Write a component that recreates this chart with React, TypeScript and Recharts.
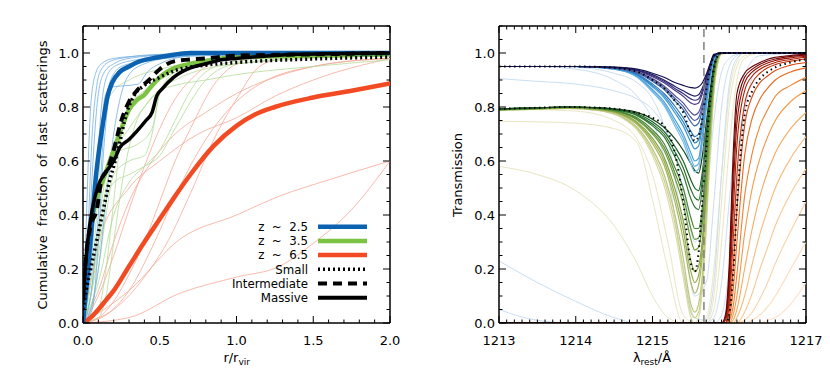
import React from 'react';
import { LineChart, Line, XAxis, YAxis, ReferenceLine } from 'recharts';

const FONT = '"DejaVu Sans", Verdana, sans-serif';

// ---------------- ticks ----------------
const leftXTicks = [0, 0.1, 0.2, 0.3, 0.4, 0.5, 0.6, 0.7, 0.8, 0.9, 1.0, 1.1, 1.2, 1.3, 1.4, 1.5, 1.6, 1.7, 1.8, 1.9, 2.0];
const leftXMajor = [0, 0.5, 1, 1.5, 2];
const leftXLabels = ['0.0', '0.5', '1.0', '1.5', '2.0'];
const yTicks = [0, 0.05, 0.1, 0.15, 0.2, 0.25, 0.3, 0.35, 0.4, 0.45, 0.5, 0.55, 0.6, 0.65, 0.7, 0.75, 0.8, 0.85, 0.9, 0.95, 1.0, 1.05, 1.1];
const yMajor = [0, 0.2, 0.4, 0.6, 0.8, 1.0];
const yLabels = ['0.0', '0.2', '0.4', '0.6', '0.8', '1.0'];
const rightXTicks = [1213, 1213.1, 1213.2, 1213.3, 1213.4, 1213.5, 1213.6, 1213.7, 1213.8, 1213.9, 1214, 1214.1, 1214.2, 1214.3, 1214.4, 1214.5, 1214.6, 1214.7, 1214.8, 1214.9, 1215, 1215.1, 1215.2, 1215.3, 1215.4, 1215.5, 1215.6, 1215.7, 1215.8, 1215.9, 1216, 1216.1, 1216.2, 1216.3, 1216.4, 1216.5, 1216.6, 1216.7, 1216.8, 1216.9, 1217];
const rightXMajor = [1213, 1214, 1215, 1216, 1217];
const rightXLabels = ['1213', '1214', '1215', '1216', '1217'];
const lyaLine = 1215.67;

// ---------------- left panel: thick curves ----------------
const blueThickX = [0, 0.02, 0.04, 0.06, 0.08, 0.1, 0.13, 0.16, 0.19, 0.24, 0.3, 0.35, 0.45, 0.55, 0.7, 1.0, 1.5, 2.0];
const blueThickY = [0, 0.12, 0.25, 0.38, 0.52, 0.62, 0.74, 0.84, 0.89, 0.93, 0.95, 0.965, 0.98, 0.99, 1.0, 1.0, 1.0, 1.0];
const greenThickX = [0, 0.02, 0.05, 0.1, 0.15, 0.2, 0.25, 0.3, 0.35, 0.4, 0.45, 0.5, 0.6, 0.7, 0.85, 1.0, 1.5, 2.0];
const greenThickY = [0.06, 0.22, 0.36, 0.48, 0.56, 0.64, 0.72, 0.79, 0.825, 0.845, 0.88, 0.91, 0.945, 0.96, 0.975, 0.985, 0.99, 0.995];
const redThickX = [0, 0.05, 0.1, 0.15, 0.2, 0.3, 0.4, 0.5, 0.6, 0.7, 0.85, 1.0, 1.12, 1.25, 1.5, 1.75, 2.0];
const redThickY = [0, 0.02, 0.05, 0.085, 0.12, 0.21, 0.3, 0.385, 0.47, 0.55, 0.655, 0.73, 0.772, 0.8, 0.835, 0.86, 0.887];
const massiveX = [0, 0.01, 0.03, 0.06, 0.1, 0.15, 0.2, 0.24, 0.3, 0.35, 0.41, 0.45, 0.48, 0.52, 0.59, 0.7, 0.8, 0.9, 1.0, 1.4, 2.0];
const massiveY = [0.08, 0.17, 0.3, 0.42, 0.51, 0.56, 0.6, 0.65, 0.68, 0.71, 0.75, 0.78, 0.84, 0.87, 0.91, 0.945, 0.96, 0.975, 0.98, 0.995, 1.0];
const intermX = [0, 0.02, 0.05, 0.09, 0.12, 0.16, 0.2, 0.25, 0.3, 0.35, 0.43, 0.5, 0.6, 0.8, 1.0, 1.5, 2.0];
const intermY = [0.1, 0.25, 0.36, 0.42, 0.53, 0.57, 0.64, 0.75, 0.82, 0.86, 0.9, 0.94, 0.97, 0.98, 0.99, 0.995, 1.0];
const smallX = [0, 0.02, 0.05, 0.08, 0.11, 0.14, 0.17, 0.2, 0.24, 0.28, 0.33, 0.4, 0.5, 0.6, 0.8, 1.0, 1.5, 2.0];
const smallY = [0.05, 0.12, 0.2, 0.28, 0.36, 0.44, 0.52, 0.58, 0.67, 0.77, 0.84, 0.88, 0.91, 0.935, 0.955, 0.965, 0.978, 0.985];

// ---------------- left panel: thin curves ----------------
const thinBlue = [
  { x: [0, 0.03, 0.06, 0.09, 0.12, 0.18, 0.3, 0.5, 1, 2], y: [0, 0.3, 0.7, 0.88, 0.94, 0.97, 0.985, 0.995, 1, 1] },
  { x: [0, 0.03, 0.06, 0.1, 0.14, 0.2, 0.3, 0.6, 1, 2], y: [0, 0.2, 0.55, 0.85, 0.93, 0.96, 0.98, 0.995, 1, 1] },
  { x: [0, 0.04, 0.08, 0.12, 0.16, 0.22, 0.35, 0.7, 2], y: [0, 0.15, 0.45, 0.8, 0.92, 0.955, 0.975, 0.995, 1] },
  { x: [0, 0.05, 0.1, 0.14, 0.18, 0.25, 0.4, 0.8, 2], y: [0, 0.1, 0.4, 0.75, 0.9, 0.95, 0.97, 0.99, 1] },
  { x: [0, 0.05, 0.1, 0.15, 0.2, 0.3, 0.36, 0.42, 0.5, 0.7, 1, 2], y: [0, 0.2, 0.6, 0.85, 0.875, 0.88, 0.885, 0.93, 0.96, 0.99, 1, 1] },
  { x: [0, 0.05, 0.1, 0.15, 0.2, 0.25, 0.3, 0.4, 0.6, 1, 2], y: [0, 0.05, 0.2, 0.45, 0.7, 0.85, 0.92, 0.96, 0.985, 1, 1] },
  { x: [0, 0.02, 0.05, 0.08, 0.12, 0.2, 0.4, 1, 2], y: [0, 0.35, 0.8, 0.92, 0.96, 0.98, 0.99, 1, 1] },
  { x: [0, 0.06, 0.1, 0.13, 0.16, 0.2, 0.3, 0.5, 1, 2], y: [0, 0.05, 0.3, 0.6, 0.8, 0.9, 0.95, 0.98, 1, 1] },
];
const thinGreen = [
  { x: [0, 0.05, 0.1, 0.15, 0.2, 0.3, 0.4, 0.5, 0.6, 0.8, 1, 1.5, 2], y: [0, 0.1, 0.3, 0.5, 0.62, 0.72, 0.8, 0.86, 0.88, 0.9, 0.92, 0.95, 0.975] },
  { x: [0, 0.05, 0.1, 0.15, 0.2, 0.3, 0.4, 0.45, 0.5, 0.6, 0.8, 1, 2], y: [0, 0.05, 0.2, 0.4, 0.55, 0.6, 0.62, 0.7, 0.85, 0.92, 0.96, 0.98, 1] },
  { x: [0, 0.05, 0.1, 0.15, 0.2, 0.25, 0.35, 0.45, 0.5, 0.6, 0.8, 1.2, 2], y: [0, 0.1, 0.35, 0.55, 0.62, 0.64, 0.66, 0.72, 0.85, 0.93, 0.97, 0.99, 1] },
  { x: [0, 0.1, 0.15, 0.2, 0.25, 0.3, 0.4, 0.5, 0.7, 1, 2], y: [0, 0.05, 0.2, 0.45, 0.7, 0.8, 0.86, 0.9, 0.95, 0.98, 1] },
  { x: [0, 0.05, 0.1, 0.12, 0.15, 0.2, 0.3, 0.5, 0.8, 1.2, 2], y: [0, 0.15, 0.5, 0.7, 0.8, 0.86, 0.9, 0.94, 0.97, 0.99, 1] },
  { x: [0, 0.1, 0.2, 0.3, 0.4, 0.5, 0.6, 0.7, 0.8, 1, 1.5, 2], y: [0, 0.15, 0.4, 0.52, 0.58, 0.64, 0.75, 0.86, 0.93, 0.97, 0.99, 1] },
  { x: [0, 0.05, 0.1, 0.15, 0.2, 0.3, 0.4, 0.5, 0.6, 0.8, 1, 2], y: [0, 0.1, 0.25, 0.45, 0.52, 0.55, 0.58, 0.62, 0.72, 0.9, 0.96, 1] },
  { x: [0, 0.1, 0.15, 0.2, 0.25, 0.3, 0.35, 0.4, 0.6, 1, 2], y: [0, 0.02, 0.1, 0.3, 0.5, 0.65, 0.75, 0.8, 0.9, 0.96, 0.99] },
];
const thinRed = [
  { x: [0, 0.1, 0.2, 0.3, 0.4, 0.5, 0.6, 0.7, 0.8, 0.9, 1, 2], y: [0, 0.1, 0.25, 0.42, 0.58, 0.72, 0.83, 0.9, 0.95, 0.98, 0.99, 1] },
  { x: [0, 0.1, 0.2, 0.3, 0.4, 0.5, 0.6, 0.7, 0.85, 1, 1.2, 2], y: [0, 0.02, 0.08, 0.18, 0.3, 0.45, 0.6, 0.72, 0.88, 0.96, 0.99, 1] },
  { x: [0, 0.1, 0.2, 0.3, 0.45, 0.6, 0.8, 1, 1.2, 1.5, 2], y: [0, 0.12, 0.3, 0.45, 0.6, 0.7, 0.78, 0.85, 0.9, 0.95, 0.98] },
  { x: [0, 0.2, 0.4, 0.55, 0.7, 0.87, 1, 1.15, 1.3, 1.5, 2], y: [0, 0.05, 0.17, 0.3, 0.48, 0.7, 0.83, 0.95, 0.98, 0.99, 1] },
  { x: [0, 0.05, 0.1, 0.3, 0.5, 0.75, 1, 1.25, 1.5, 2], y: [0, 0.15, 0.3, 0.5, 0.6, 0.7, 0.76, 0.84, 0.9, 0.98] },
  { x: [0, 0.3, 0.63, 1, 1.28, 1.6, 2], y: [0, 0.12, 0.31, 0.4, 0.47, 0.53, 0.6] },
  { x: [0, 0.3, 0.63, 1, 1.28, 1.5, 1.75, 2], y: [0, 0.02, 0.11, 0.17, 0.21, 0.295, 0.42, 0.6] },
  { x: [0, 0.15, 0.3, 0.45, 0.6, 0.8, 1, 1.2, 1.5, 2], y: [0, 0.03, 0.12, 0.28, 0.47, 0.68, 0.82, 0.9, 0.95, 0.98] },
];

// ---------------- right panel ----------------
const blueX = [1213, 1214, 1214.5, 1214.8, 1215.0, 1215.15, 1215.3, 1215.4, 1215.5, 1215.55, 1215.6, 1215.65, 1215.7, 1215.75, 1215.8, 1215.9, 1217];
const blueSeries = [
  [0.95, 0.95, 0.94, 0.91, 0.855, 0.805, 0.725, 0.67, 0.59, 0.56, 0.57, 0.67, 0.79, 0.9, 0.975, 1, 1],
  [0.95, 0.95, 0.9405, 0.912, 0.86, 0.812, 0.737, 0.685, 0.61, 0.58, 0.59, 0.685, 0.8, 0.905, 0.978, 1, 1],
  [0.95, 0.95, 0.941, 0.914, 0.865, 0.82, 0.75, 0.7, 0.63, 0.6, 0.61, 0.7, 0.81, 0.91, 0.98, 1, 1],
  [0.95, 0.95, 0.942, 0.918, 0.875, 0.835, 0.775, 0.73, 0.67, 0.645, 0.655, 0.73, 0.83, 0.92, 0.98, 1, 1],
  [0.95, 0.95, 0.9425, 0.92, 0.88, 0.842, 0.787, 0.745, 0.69, 0.667, 0.677, 0.745, 0.84, 0.925, 0.982, 1, 1],
  [0.95, 0.95, 0.943, 0.922, 0.885, 0.85, 0.8, 0.76, 0.71, 0.69, 0.7, 0.76, 0.85, 0.93, 0.985, 1, 1],
  [0.95, 0.95, 0.944, 0.926, 0.895, 0.865, 0.82, 0.79, 0.745, 0.73, 0.74, 0.79, 0.87, 0.94, 0.985, 1, 1],
  [0.95, 0.95, 0.9445, 0.928, 0.9, 0.871, 0.83, 0.802, 0.762, 0.75, 0.76, 0.805, 0.877, 0.942, 0.988, 1, 1],
  [0.95, 0.95, 0.945, 0.93, 0.905, 0.878, 0.84, 0.815, 0.78, 0.77, 0.78, 0.82, 0.885, 0.945, 0.99, 1, 1],
  [0.95, 0.95, 0.946, 0.934, 0.912, 0.89, 0.86, 0.84, 0.815, 0.81, 0.815, 0.85, 0.9, 0.95, 0.99, 1, 1],
  [0.95, 0.95, 0.9465, 0.9355, 0.916, 0.895, 0.867, 0.85, 0.83, 0.825, 0.83, 0.86, 0.905, 0.952, 0.99, 1, 1],
  [0.95, 0.95, 0.947, 0.937, 0.92, 0.9, 0.875, 0.86, 0.845, 0.84, 0.845, 0.87, 0.91, 0.955, 0.99, 1, 1],
  [0.95, 0.95, 0.948, 0.94, 0.925, 0.91, 0.89, 0.88, 0.872, 0.87, 0.875, 0.89, 0.92, 0.96, 0.995, 1, 1],
];
const blueColors = ['#7cc0e8', '#62b0e0', '#4ea2da', '#3c94d2', '#3286c8', '#2f78bc', '#3a68ac', '#4a5aa0', '#54509a', '#4a3a88', '#38307c', '#262268', '#101050'];
const blueDotted = [0.95, 0.95, 0.945, 0.93, 0.9, 0.87, 0.82, 0.78, 0.7, 0.675, 0.69, 0.76, 0.86, 0.94, 0.99, 1, 1];

const greenX = [1213, 1213.5, 1213.9, 1214.3, 1214.6, 1214.8, 1215.0, 1215.15, 1215.3, 1215.4, 1215.5, 1215.55, 1215.6, 1215.65, 1215.7, 1215.75, 1215.8, 1215.85, 1215.9, 1216.0, 1217];
const greenSeries = [
  [0.787, 0.792, 0.795, 0.786, 0.76, 0.715, 0.62, 0.51, 0.33, 0.17, 0.02, 0, 0.02, 0.12, 0.34, 0.62, 0.85, 0.96, 0.995, 1, 1],
  [0.787, 0.792, 0.795, 0.787, 0.762, 0.72, 0.632, 0.53, 0.36, 0.2, 0.04, 0.02, 0.04, 0.15, 0.37, 0.64, 0.86, 0.965, 0.998, 1, 1],
  [0.788, 0.793, 0.796, 0.788, 0.765, 0.725, 0.645, 0.55, 0.39, 0.24, 0.07, 0.04, 0.07, 0.18, 0.4, 0.66, 0.87, 0.97, 1, 1, 1],
  [0.79, 0.794, 0.797, 0.79, 0.77, 0.735, 0.665, 0.585, 0.44, 0.31, 0.15, 0.11, 0.14, 0.25, 0.46, 0.7, 0.89, 0.98, 1, 1, 1],
  [0.79, 0.794, 0.797, 0.791, 0.772, 0.74, 0.675, 0.6, 0.465, 0.345, 0.19, 0.15, 0.175, 0.28, 0.485, 0.715, 0.895, 0.98, 1, 1, 1],
  [0.79, 0.794, 0.798, 0.792, 0.774, 0.744, 0.685, 0.615, 0.49, 0.38, 0.23, 0.19, 0.21, 0.31, 0.51, 0.73, 0.9, 0.98, 1, 1, 1],
  [0.79, 0.795, 0.799, 0.794, 0.778, 0.752, 0.7, 0.64, 0.53, 0.44, 0.31, 0.27, 0.28, 0.37, 0.56, 0.76, 0.92, 0.985, 1, 1, 1],
  [0.79, 0.795, 0.8, 0.794, 0.78, 0.756, 0.707, 0.652, 0.55, 0.47, 0.35, 0.31, 0.315, 0.4, 0.585, 0.775, 0.925, 0.988, 1, 1, 1],
  [0.79, 0.795, 0.8, 0.795, 0.782, 0.76, 0.715, 0.665, 0.57, 0.5, 0.39, 0.35, 0.35, 0.43, 0.61, 0.79, 0.93, 0.99, 1, 1, 1],
  [0.793, 0.797, 0.8, 0.796, 0.785, 0.768, 0.73, 0.69, 0.61, 0.55, 0.46, 0.43, 0.42, 0.5, 0.66, 0.82, 0.94, 0.99, 1, 1, 1],
  [0.793, 0.797, 0.8, 0.796, 0.786, 0.771, 0.737, 0.7, 0.63, 0.575, 0.495, 0.465, 0.455, 0.53, 0.68, 0.83, 0.945, 0.992, 1, 1, 1],
  [0.793, 0.797, 0.8, 0.797, 0.788, 0.775, 0.745, 0.71, 0.65, 0.6, 0.53, 0.5, 0.49, 0.56, 0.7, 0.84, 0.95, 0.995, 1, 1, 1],
  [0.793, 0.797, 0.8, 0.798, 0.79, 0.78, 0.755, 0.725, 0.68, 0.64, 0.59, 0.565, 0.555, 0.62, 0.74, 0.86, 0.96, 1, 1, 1, 1],
];
const greenColors = ['#dcdcaa', '#ccd090', '#bcc67c', '#a8b860', '#98ae50', '#86a444', '#6f9a3a', '#5a903a', '#488638', '#347a32', '#26702c', '#1c6026', '#124418'];
const greenDotted = [0.793, 0.797, 0.8, 0.797, 0.79, 0.778, 0.76, 0.73, 0.62, 0.45, 0.22, 0.19, 0.26, 0.45, 0.64, 0.82, 0.94, 0.99, 1, 1, 1];

const paleX = [1213, 1213.5, 1214, 1214.5, 1214.8, 1215.0, 1215.2, 1215.4, 1215.55, 1215.7, 1215.8, 1215.9, 1216.0, 1216.1, 1216.2, 1216.4, 1217];
const paleBlueSeries = [
  [0.905, 0.895, 0.885, 0.86, 0.83, 0.79, 0.7, 0.5, 0.3, 0.45, 0.75, 0.93, 0.98, 0.995, 1, 1, 1],
  [0.95, 0.95, 0.947, 0.925, 0.89, 0.83, 0.68, 0.35, 0.1, 0.15, 0.45, 0.8, 0.95, 0.99, 1, 1, 1],
  [0.95, 0.95, 0.94, 0.9, 0.84, 0.75, 0.55, 0.2, 0.02, 0.01, 0.15, 0.55, 0.88, 0.98, 1, 1, 1],
  [0.23, 0.15, 0.08, 0.02, 0, 0, 0, 0, 0, 0, 0.02, 0.15, 0.45, 0.75, 0.92, 0.99, 1],
  [0.05, 0.01, 0, 0, 0, 0, 0, 0, 0, 0, 0, 0.03, 0.2, 0.5, 0.78, 0.96, 1],
];
const paleGreenSeries = [
  [0.79, 0.79, 0.785, 0.75, 0.68, 0.55, 0.3, 0.03, 0, 0, 0.1, 0.45, 0.8, 0.95, 0.99, 1, 1],
  [0.747, 0.745, 0.74, 0.72, 0.667, 0.456, 0.2, 0, 0, 0.02, 0.2, 0.55, 0.85, 0.97, 1, 1, 1],
  [0.58, 0.55, 0.49, 0.36, 0.22, 0.1, 0.02, 0, 0, 0, 0.05, 0.3, 0.65, 0.9, 0.98, 1, 1],
];

const redX = [1213, 1215.9, 1215.95, 1216.0, 1216.05, 1216.1, 1216.2, 1216.3, 1216.4, 1216.5, 1216.6, 1216.8, 1217.0];
const redSeries = [
  [0, 0, 0, 0, 0, 0, 0, 0, 0, 0.01, 0.02, 0.07, 0.15],
  [0, 0, 0, 0, 0, 0, 0, 0.01, 0.03, 0.06, 0.1, 0.2, 0.3],
  [0, 0, 0, 0, 0, 0, 0.01, 0.04, 0.09, 0.15, 0.22, 0.34, 0.45],
  [0, 0, 0, 0, 0, 0, 0.04, 0.11, 0.2, 0.28, 0.36, 0.48, 0.57],
  [0, 0, 0, 0, 0, 0.02, 0.1, 0.22, 0.33, 0.42, 0.5, 0.61, 0.69],
  [0, 0, 0, 0, 0.01, 0.05, 0.2, 0.35, 0.47, 0.56, 0.63, 0.72, 0.78],
  [0, 0, 0, 0, 0.03, 0.1, 0.33, 0.5, 0.61, 0.69, 0.75, 0.82, 0.86],
  [0, 0, 0, 0.01, 0.06, 0.18, 0.47, 0.63, 0.73, 0.79, 0.84, 0.88, 0.91],
  [0, 0, 0, 0.02, 0.12, 0.3, 0.62, 0.76, 0.83, 0.87, 0.9, 0.93, 0.945],
  [0, 0, 0, 0.04, 0.2, 0.42, 0.73, 0.84, 0.89, 0.915, 0.935, 0.955, 0.965],
  [0, 0, 0, 0.07, 0.3, 0.55, 0.81, 0.89, 0.925, 0.945, 0.957, 0.97, 0.978],
  [0, 0, 0, 0.1, 0.4, 0.66, 0.86, 0.915, 0.94, 0.955, 0.965, 0.976, 0.984],
  [0, 0, 0.01, 0.14, 0.48, 0.74, 0.89, 0.93, 0.95, 0.963, 0.972, 0.982, 0.988],
  [0, 0, 0.02, 0.18, 0.55, 0.8, 0.91, 0.94, 0.958, 0.97, 0.978, 0.987, 0.992],
  [0, 0, 0.03, 0.22, 0.62, 0.85, 0.925, 0.95, 0.965, 0.977, 0.984, 0.991, 0.995],
];
const redColors = ['#fce4ca', '#fbdcba', '#fad2a8', '#f9c794', '#f8ba7c', '#f6aa62', '#f49848', '#f08030', '#e8661e', '#d64a12', '#c0300a', '#aa1e04', '#941000', '#7e0400', '#6a0000'];
const redDotted = [0, 0, 0, 0.03, 0.18, 0.43, 0.77, 0.86, 0.905, 0.93, 0.947, 0.965, 0.977];

// ---------------- helpers ----------------
const pts = (xs: number[], ys: number[]) => xs.map((x, i) => ({ x, y: ys[i] }));

const PT = 26;
const PB = 323;
const isMajor = (arr: number[], v: number) => arr.findIndex((m) => Math.abs(m - v) < 1e-6);

const makeXTick = (majors: number[], labels: string[]) => (props: any) => {
  const { x, payload } = props;
  const mi = isMajor(majors, payload.value);
  const len = mi >= 0 ? 7 : 3.5;
  return (
    <g>
      <line x1={x} y1={PB} x2={x} y2={PB - len} stroke="#000" strokeWidth={1} />
      <line x1={x} y1={PT} x2={x} y2={PT + len} stroke="#000" strokeWidth={1} />
      {mi >= 0 && (
        <text x={x} y={PB + 22} textAnchor="middle" fontFamily={FONT} fontSize={13} fill="#000">
          {labels[mi]}
        </text>
      )}
    </g>
  );
};

const makeYTick = (pl: number, pr: number) => (props: any) => {
  const { y, payload } = props;
  const mi = isMajor(yMajor, payload.value);
  const len = mi >= 0 ? 7 : 3.5;
  return (
    <g>
      <line x1={pl} y1={y} x2={pl + len} y2={y} stroke="#000" strokeWidth={1} />
      <line x1={pr} y1={y} x2={pr - len} y2={y} stroke="#000" strokeWidth={1} />
      {mi >= 0 && (
        <text x={pl - 4} y={y + 4.7} textAnchor="end" fontFamily={FONT} fontSize={13} fill="#000">
          {yLabels[mi]}
        </text>
      )}
    </g>
  );
};

const line = (key: string, data: any[], color: string, width: number, dash?: string) => (
  <Line
    key={key}
    name={key}
    data={data}
    dataKey="y"
    type="monotone"
    stroke={color}
    strokeWidth={width}
    strokeDasharray={dash}
    dot={false}
    activeDot={false}
    isAnimationActive={false}
  />
);

const LeftPanel = () => (
  <LineChart width={415} height={377} margin={{ top: PT, right: 25, bottom: 24, left: 0 }}>
    <XAxis
      dataKey="x"
      type="number"
      domain={[0, 2]}
      ticks={leftXTicks}
      interval={0}
      tick={makeXTick(leftXMajor, leftXLabels)}
      tickLine={false}
      tickSize={0}
      tickMargin={0}
      axisLine={{ stroke: '#000', strokeWidth: 1.5 }}
      height={30}
      allowDataOverflow
    />
    <YAxis
      type="number"
      domain={[0, 1.1]}
      ticks={yTicks}
      interval={0}
      tick={makeYTick(83, 390)}
      tickLine={false}
      tickSize={0}
      tickMargin={0}
      axisLine={{ stroke: '#000', strokeWidth: 1.5 }}
      width={83}
      allowDataOverflow
    />
    <ReferenceLine y={1.1} stroke="#000" strokeWidth={1.5} />
    <ReferenceLine x={2} stroke="#000" strokeWidth={1.5} />
    {thinRed.map((c, i) => line('tr' + i, pts(c.x, c.y), '#f6a898', 0.8))}
    {thinGreen.map((c, i) => line('tg' + i, pts(c.x, c.y), '#b4dc98', 0.8))}
    {thinBlue.map((c, i) => line('tb' + i, pts(c.x, c.y), '#74aee0', 0.8))}
    {line('redThick', pts(redThickX, redThickY), '#f24a23', 4.5)}
    {line('greenThick', pts(greenThickX, greenThickY), '#7cc243', 4.5)}
    {line('blueThick', pts(blueThickX, blueThickY), '#0a62b0', 4.5)}
    {line('small', pts(smallX, smallY), '#000', 3.5, '2 3')}
    {line('interm', pts(intermX, intermY), '#000', 4, '9 6')}
    {line('massive', pts(massiveX, massiveY), '#000', 3.5)}
  </LineChart>
);

const RightPanel = () => (
  <LineChart width={415} height={377} margin={{ top: PT, right: 24, bottom: 24, left: 0 }}>
    <XAxis
      dataKey="x"
      type="number"
      domain={[1213, 1217]}
      ticks={rightXTicks}
      interval={0}
      tick={makeXTick(rightXMajor, rightXLabels)}
      tickLine={false}
      tickSize={0}
      tickMargin={0}
      axisLine={{ stroke: '#000', strokeWidth: 1.5 }}
      height={30}
      allowDataOverflow
    />
    <YAxis
      type="number"
      domain={[0, 1.1]}
      ticks={yTicks}
      interval={0}
      tick={makeYTick(84, 391)}
      tickLine={false}
      tickSize={0}
      tickMargin={0}
      axisLine={{ stroke: '#000', strokeWidth: 1.5 }}
      width={84}
      allowDataOverflow
    />
    <ReferenceLine y={1.1} stroke="#000" strokeWidth={1.5} />
    <ReferenceLine x={1217} stroke="#000" strokeWidth={1.5} />
    {paleGreenSeries.map((s, i) => line('pg' + i, pts(paleX, s), '#e8e6c2', 1))}
    {paleBlueSeries.map((s, i) => line('pb' + i, pts(paleX, s), '#cadef2', 1))}
    {redSeries.map((s, i) => line('rs' + i, pts(redX, s), redColors[i], 1.1))}
    {greenSeries.map((s, i) => line('gs' + i, pts(greenX, s), greenColors[i], 1.2))}
    {blueSeries.map((s, i) => line('bs' + i, pts(blueX, s), blueColors[i], 1.2))}
    {line('rdot', pts(redX, redDotted), '#000', 2, '1.5 3.5')}
    {line('gdot', pts(greenX, greenDotted), '#000', 2, '1.5 3.5')}
    {line('bdot', pts(blueX, blueDotted), '#000', 2, '1.5 3.5')}
    <ReferenceLine x={lyaLine} stroke="#808080" strokeWidth={1.5} strokeDasharray="8 5" />
  </LineChart>
);

const legendRows = [
  { label: 'z  ~  2.5', color: '#0a62b0', dash: undefined as string | undefined, w: 4.5 },
  { label: 'z  ~  3.5', color: '#7cc243', dash: undefined, w: 4.5 },
  { label: 'z  ~  6.5', color: '#f24a23', dash: undefined, w: 4.5 },
  { label: 'Small', color: '#000', dash: '2 3', w: 3.5 },
  { label: 'Intermediate', color: '#000', dash: '9 6', w: 4 },
  { label: 'Massive', color: '#000', dash: undefined, w: 4 },
];

export default function App() {
  return (
    <div style={{ position: 'absolute', left: 0, top: 0, width: 830, height: 377, background: '#fff' }}>
      <div style={{ position: 'absolute', left: 0, top: 0 }}>
        <LeftPanel />
      </div>
      <div style={{ position: 'absolute', left: 415, top: 0 }}>
        <RightPanel />
      </div>
      <svg width={830} height={377} style={{ position: 'absolute', left: 0, top: 0, pointerEvents: 'none' }}>
        <g fontFamily={FONT} fill="#000">
          <text transform="translate(42,175) rotate(-90)" textAnchor="middle" dominantBaseline="central" fontSize={13} style={{ wordSpacing: 5 }}>
            Cumulative fraction of last scatterings
          </text>
          <text x={236.7} y={362} textAnchor="middle" fontSize={13}>
            r/r<tspan fontSize={9} dy={3}>vir</tspan>
          </text>
          <text transform="translate(457,175) rotate(-90)" textAnchor="middle" dominantBaseline="central" fontSize={13}>
            Transmission
          </text>
          <text x={652} y={362} textAnchor="middle" fontSize={13}>
            λ<tspan fontSize={9} dy={3}>rest</tspan>
            <tspan dy={-3}>/Å</tspan>
          </text>
          {legendRows.map((r, i) => {
            const y = 226.7 + i * 14.2;
            return (
              <g key={r.label}>
                <text x={308} y={y + 4.3} textAnchor="end" fontSize={11.8} style={{ whiteSpace: 'pre' }}>
                  {r.label}
                </text>
                <line x1={318} y1={y} x2={367} y2={y} stroke={r.color} strokeWidth={r.w} strokeDasharray={r.dash} />
              </g>
            );
          })}
        </g>
      </svg>
    </div>
  );
}
